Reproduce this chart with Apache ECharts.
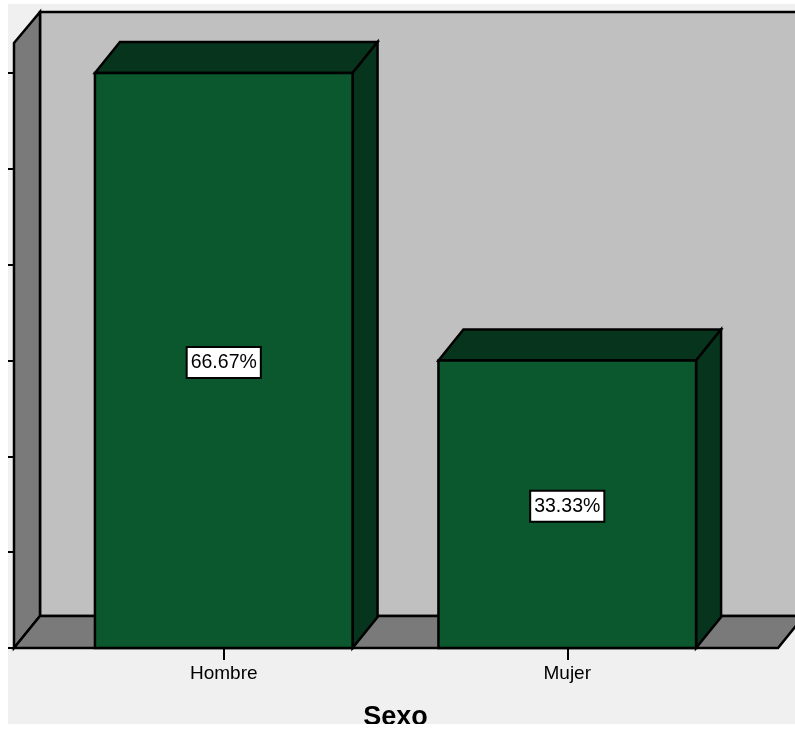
<!DOCTYPE html>
<html>
<head>
<meta charset="utf-8">
<style>
  html, body { margin: 0; padding: 0; background: #ffffff; }
  #chart { position: absolute; left: 8px; top: 4px; width: 787px; height: 720px; }
</style>
<script src="https://cdn.jsdelivr.net/npm/echarts@6/dist/echarts.min.js"></script>
</head>
<body>
<div id="chart"></div>
<script>
const categories = ['Hombre', 'Mujer'];
const percentages = [66.67, 33.33];
const axisMax = 66.67;
const axisSteps = 6;
const axisTitle = 'Sexo';

const FONT = '"Liberation Sans", Arial, sans-serif';
const FRONT = '#0b572e';
const SHADE = '#07341c';
const WALL = '#c0c0c0';
const SIDE = '#7a7a7a';
const INK = '#000000';
const DEPTH_X = 26;
const DEPTH_Y = 32;
const BAR_DEPTH_X = 25;
const BAR_DEPTH_Y = 31;
const AXIS_OFFSET = 38;
const WALL_HEAD = 30;

const ink = { fill: null, stroke: INK, lineWidth: 2.5, lineJoin: 'miter' };

function face(points, fill) {
  return { type: 'polygon', shape: { points }, style: { ...ink, fill } };
}

// Back wall, side wall and floor of the 3D box around the plot
function renderRoom(params) {
  const c = params.coordSys;
  const left = c.x - AXIS_OFFSET;
  const right = c.x + c.width + AXIS_OFFSET + 1;
  const bottom = c.y + c.height;
  const top = c.y - WALL_HEAD;
  const bx = left + DEPTH_X;
  const by = bottom - DEPTH_Y;
  const ty = top - 31;
  return {
    type: 'group',
    children: [
      face([[bx, ty], [right + DEPTH_X, ty], [right + DEPTH_X, by], [bx, by]], WALL),
      face([[left, top], [bx, ty], [bx, by], [left, bottom]], SIDE),
      face([[left, bottom], [bx, by], [right + DEPTH_X, by], [right, bottom]], SIDE)
    ]
  };
}

// Extruded bar with its white percentage tag
function renderBar(params, api) {
  const base = api.coord([api.value(0), 0]);
  const head = api.coord([api.value(0), api.value(1)]);
  const width = api.size([1, 0])[0] * 0.75;
  const x0 = base[0] - width / 2;
  const x1 = base[0] + width / 2;
  const y0 = head[1];
  const y1 = base[1];
  return {
    type: 'group',
    children: [
      face([[x0, y0], [x0 + BAR_DEPTH_X, y0 - BAR_DEPTH_Y], [x1 + BAR_DEPTH_X, y0 - BAR_DEPTH_Y], [x1, y0]], SHADE),
      face([[x1, y0], [x1 + BAR_DEPTH_X, y0 - BAR_DEPTH_Y], [x1 + BAR_DEPTH_X, y1 - BAR_DEPTH_Y], [x1, y1]], SHADE),
      face([[x0, y0], [x1, y0], [x1, y1], [x0, y1]], FRONT),
      {
        type: 'text',
        x: base[0],
        y: (y0 + y1) / 2 + 2,
        style: {
          text: api.value(1).toFixed(2) + '%',
          font: '19.5px ' + FONT,
          fill: INK,
          align: 'center',
          verticalAlign: 'middle',
          backgroundColor: '#ffffff',
          borderColor: INK,
          borderWidth: 2,
          padding: [5, 3, 4, 3]
        }
      }
    ]
  };
}

const chart = echarts.init(document.getElementById('chart'), null, { renderer: 'canvas' });
chart.setOption({
  animation: false,
  backgroundColor: '#f0f0f0',
  grid: { left: 44, top: 69, width: 687, height: 575, outerBoundsMode: 'none' },
  xAxis: {
    type: 'category',
    data: categories,
    axisLine: { show: false },
    axisTick: { show: true, alignWithLabel: true, length: 12, lineStyle: { color: INK, width: 2 } },
    axisLabel: { color: INK, fontFamily: FONT, fontSize: 19, margin: 16 },
    name: axisTitle,
    nameLocation: 'middle',
    nameGap: 70,
    nameTextStyle: { color: INK, fontFamily: FONT, fontSize: 27, fontWeight: 'bold', verticalAlign: 'middle' }
  },
  yAxis: {
    type: 'value',
    min: 0,
    max: axisMax,
    interval: axisMax / axisSteps,
    offset: AXIS_OFFSET,
    axisLine: { show: false },
    axisTick: { show: true, length: 6, lineStyle: { color: INK, width: 2 } },
    axisLabel: { show: false },
    splitLine: { show: false }
  },
  series: [
    {
      type: 'custom',
      z: 1,
      silent: true,
      renderItem: renderRoom,
      data: [0]
    },
    {
      type: 'custom',
      z: 2,
      renderItem: renderBar,
      encode: { x: 0, y: 1 },
      data: percentages.map((v, i) => [i, v])
    }
  ]
});
</script>
</body>
</html>
